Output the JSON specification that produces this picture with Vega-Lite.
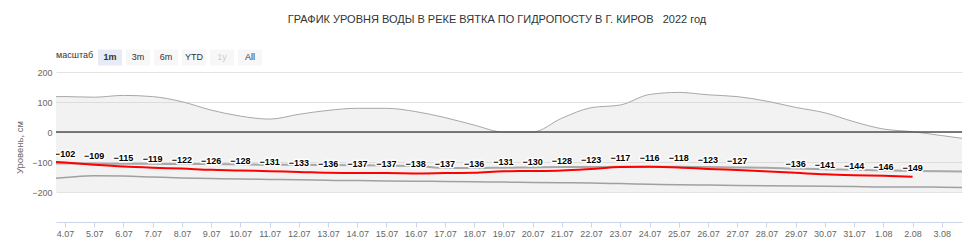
{
  "$schema": "https://vega.github.io/schema/vega-lite/v6.json",
  "width": 906,
  "height": 150,
  "autosize": {"type": "none"},
  "padding": {"left": 56, "top": 72, "right": 12, "bottom": 29},
  "background": "white",
  "config": {
    "view": {"stroke": null},
    "font": "Liberation Sans",
    "axisX": {
      "title": null,
      "format": "%-d.%m",
      "labelOverlap": false,
      "labelBound": false,
      "labelFlush": false,
      "grid": false,
      "domainColor": "#ccd6eb",
      "tickColor": "#ccd6eb",
      "tickSize": 5,
      "labelFontSize": 9,
      "labelColor": "#666666",
      "labelPadding": 2,
      "labelFont": "Liberation Sans"
    },
    "axisY": {
      "ticks": false,
      "domain": false,
      "grid": true,
      "gridColor": "#e3e3e3",
      "labelFontSize": 9,
      "labelColor": "#666666",
      "labelPadding": 4,
      "labelFont": "Liberation Sans",
      "titleFont": "Liberation Sans",
      "titleFontSize": 9.5,
      "titleColor": "#666666",
      "titleFontWeight": "normal",
      "titlePadding": 7
    }
  },
  "title": {
    "text": "ГРАФИК УРОВНЯ ВОДЫ В РЕКЕ ВЯТКА ПО ГИДРОПОСТУ В Г. КИРОВ\u00a0\u00a0 2022 год",
    "fontSize": 11,
    "font": "Liberation Sans",
    "fontWeight": "normal",
    "color": "#333333",
    "anchor": "middle",
    "frame": "group",
    "offset": 20,
    "dx": -12
  },
  "datasets": {
    "env": [
      {"d": "2022-07-03", "mx": 118, "mid": -104, "mn": -158},
      {"d": "2022-07-04", "mx": 118, "mid": -105, "mn": -152},
      {"d": "2022-07-05", "mx": 116, "mid": -105, "mn": -146},
      {"d": "2022-07-06", "mx": 122, "mid": -106, "mn": -147},
      {"d": "2022-07-07", "mx": 118, "mid": -106, "mn": -150},
      {"d": "2022-07-08", "mx": 101, "mid": -107, "mn": -153},
      {"d": "2022-07-09", "mx": 73, "mid": -107, "mn": -155},
      {"d": "2022-07-10", "mx": 53, "mid": -108, "mn": -157},
      {"d": "2022-07-11", "mx": 43, "mid": -109, "mn": -158},
      {"d": "2022-07-12", "mx": 59, "mid": -109, "mn": -159},
      {"d": "2022-07-13", "mx": 72, "mid": -110, "mn": -161},
      {"d": "2022-07-14", "mx": 79, "mid": -111, "mn": -162},
      {"d": "2022-07-15", "mx": 79, "mid": -112, "mn": -163},
      {"d": "2022-07-16", "mx": 68, "mid": -113, "mn": -164},
      {"d": "2022-07-17", "mx": 48, "mid": -120, "mn": -165},
      {"d": "2022-07-18", "mx": 23, "mid": -120, "mn": -166},
      {"d": "2022-07-19", "mx": 0, "mid": -119, "mn": -167},
      {"d": "2022-07-20", "mx": 0, "mid": -118, "mn": -168},
      {"d": "2022-07-21", "mx": 46, "mid": -117, "mn": -169},
      {"d": "2022-07-22", "mx": 81, "mid": -117, "mn": -170},
      {"d": "2022-07-23", "mx": 90, "mid": -116, "mn": -172},
      {"d": "2022-07-24", "mx": 125, "mid": -116, "mn": -174},
      {"d": "2022-07-25", "mx": 132, "mid": -116, "mn": -176},
      {"d": "2022-07-26", "mx": 124, "mid": -117, "mn": -177},
      {"d": "2022-07-27", "mx": 118, "mid": -118, "mn": -178},
      {"d": "2022-07-28", "mx": 103, "mid": -119, "mn": -179},
      {"d": "2022-07-29", "mx": 82, "mid": -122, "mn": -180},
      {"d": "2022-07-30", "mx": 64, "mid": -124, "mn": -181},
      {"d": "2022-07-31", "mx": 34, "mid": -126, "mn": -182},
      {"d": "2022-08-01", "mx": 10, "mid": -128, "mn": -183},
      {"d": "2022-08-02", "mx": 1, "mid": -130, "mn": -183},
      {"d": "2022-08-03", "mx": -12, "mid": -131, "mn": -184},
      {"d": "2022-08-04", "mx": -25, "mid": -132, "mn": -185}
    ],
    "lvl": [
      {"d": "2022-07-03", "v": -95},
      {"d": "2022-07-04", "v": -102},
      {"d": "2022-07-05", "v": -109},
      {"d": "2022-07-06", "v": -115},
      {"d": "2022-07-07", "v": -119},
      {"d": "2022-07-08", "v": -122},
      {"d": "2022-07-09", "v": -126},
      {"d": "2022-07-10", "v": -128},
      {"d": "2022-07-11", "v": -131},
      {"d": "2022-07-12", "v": -133},
      {"d": "2022-07-13", "v": -136},
      {"d": "2022-07-14", "v": -137},
      {"d": "2022-07-15", "v": -137},
      {"d": "2022-07-16", "v": -138},
      {"d": "2022-07-17", "v": -137},
      {"d": "2022-07-18", "v": -136},
      {"d": "2022-07-19", "v": -131},
      {"d": "2022-07-20", "v": -130},
      {"d": "2022-07-21", "v": -128},
      {"d": "2022-07-22", "v": -123},
      {"d": "2022-07-23", "v": -117},
      {"d": "2022-07-24", "v": -116},
      {"d": "2022-07-25", "v": -118},
      {"d": "2022-07-26", "v": -123},
      {"d": "2022-07-27", "v": -127},
      {"d": "2022-07-29", "v": -136},
      {"d": "2022-07-30", "v": -141},
      {"d": "2022-07-31", "v": -144},
      {"d": "2022-08-01", "v": -146},
      {"d": "2022-08-02", "v": -149}
    ],
    "btn": [
      {"b": "1m"}, {"b": "3m"}, {"b": "6m"}, {"b": "YTD"}, {"b": "1y"}, {"b": "All"}
    ],
    "zero": [{"z": 0}]
  },
  "layer": [
    {
      "data": {"name": "env"},
      "mark": {"type": "area", "color": "#c4c4c4", "opacity": 0.22, "interpolate": "monotone", "clip": true},
      "encoding": {
        "x": {
          "field": "d", "type": "temporal",
          "scale": {"type": "utc", "domain": [
            {"year": 2022, "month": 7, "date": 3, "hours": 16, "minutes": 36, "utc": true},
            {"year": 2022, "month": 8, "date": 3, "hours": 16, "minutes": 36, "utc": true}
          ]},
          "axis": {"tickCount": {"interval": "day", "step": 1}, "format": "%-d.%m", "title": null}
        },
        "y": {
          "field": "mx", "type": "quantitative",
          "scale": {"domain": [-300, 200], "nice": false, "zero": false},
          "axis": {"title": "Уровень, см", "values": [-200, -100, 0, 100, 200]}
        },
        "y2": {"datum": -200}
      }
    },
    {
      "data": {"name": "env"},
      "mark": {"type": "line", "color": "#a8a8a8", "strokeWidth": 1, "interpolate": "monotone", "clip": true},
      "encoding": {
        "x": {"field": "d", "type": "temporal", "axis": {"tickCount": {"interval": "day", "step": 1}, "format": "%-d.%m", "title": null}},
        "y": {"field": "mx", "type": "quantitative", "axis": {"title": "Уровень, см", "values": [-200, -100, 0, 100, 200]}}
      }
    },
    {
      "data": {"name": "zero"},
      "mark": {"type": "rule", "color": "#505050", "strokeWidth": 1.5},
      "encoding": {"y": {"field": "z", "type": "quantitative", "axis": {"title": "Уровень, см", "values": [-200, -100, 0, 100, 200]}}}
    },
    {
      "data": {"name": "env"},
      "mark": {"type": "line", "color": "#a0a0a0", "strokeWidth": 1.5, "interpolate": "monotone", "clip": true},
      "encoding": {
        "x": {"field": "d", "type": "temporal", "axis": {"tickCount": {"interval": "day", "step": 1}, "format": "%-d.%m", "title": null}},
        "y": {"field": "mn", "type": "quantitative", "axis": {"title": "Уровень, см", "values": [-200, -100, 0, 100, 200]}}
      }
    },
    {
      "data": {"name": "env"},
      "mark": {"type": "line", "color": "#a8a8a8", "strokeWidth": 2, "interpolate": "monotone", "clip": true},
      "encoding": {
        "x": {"field": "d", "type": "temporal", "axis": {"tickCount": {"interval": "day", "step": 1}, "format": "%-d.%m", "title": null}},
        "y": {"field": "mid", "type": "quantitative", "axis": {"title": "Уровень, см", "values": [-200, -100, 0, 100, 200]}}
      }
    },
    {
      "data": {"name": "lvl"},
      "mark": {"type": "line", "color": "#ff0000", "strokeWidth": 2, "interpolate": "monotone", "clip": true},
      "encoding": {
        "x": {"field": "d", "type": "temporal", "axis": {"tickCount": {"interval": "day", "step": 1}, "format": "%-d.%m", "title": null}},
        "y": {"field": "v", "type": "quantitative", "axis": {"title": "Уровень, см", "values": [-200, -100, 0, 100, 200]}}
      }
    },
    {
      "data": {"name": "lvl"},
      "mark": {"type": "text", "dy": -9, "fontSize": 9, "fontWeight": "bold", "fill": "#ffffff", "stroke": "#ffffff", "strokeWidth": 3, "strokeJoin": "round", "clip": true},
      "encoding": {
        "x": {"field": "d", "type": "temporal", "axis": {"tickCount": {"interval": "day", "step": 1}, "format": "%-d.%m", "title": null}},
        "y": {"field": "v", "type": "quantitative", "axis": {"title": "Уровень, см", "values": [-200, -100, 0, 100, 200]}},
        "text": {"field": "v", "type": "quantitative", "format": "d"}
      }
    },
    {
      "data": {"name": "lvl"},
      "mark": {"type": "text", "dy": -9, "fontSize": 9, "fontWeight": "bold", "fill": "#000000", "clip": true},
      "encoding": {
        "x": {"field": "d", "type": "temporal", "axis": {"tickCount": {"interval": "day", "step": 1}, "format": "%-d.%m", "title": null}},
        "y": {"field": "v", "type": "quantitative", "axis": {"title": "Уровень, см", "values": [-200, -100, 0, 100, 200]}},
        "text": {"field": "v", "type": "quantitative", "format": "d"}
      }
    },
    {
      "data": {"name": "btn"},
      "mark": {"type": "point", "filled": true, "opacity": 0, "size": 576},
      "encoding": {
        "color": {
          "field": "b", "type": "nominal",
          "scale": {"domain": ["1m", "3m", "6m", "YTD", "1y", "All"], "range": ["#e6ebf5", "#f7f7f7", "#f7f7f7", "#f7f7f7", "#f7f7f7", "#f7f7f7"]},
          "legend": {
            "orient": "none",
            "legendX": 0,
            "legendY": -27,
            "direction": "horizontal",
            "title": "масштаб",
            "titleOrient": "left",
            "titleFontSize": 9,
            "titleFontWeight": "normal",
            "titleColor": "#333333",
            "titlePadding": 4,
            "titleBaseline": "middle",
            "symbolType": "M-1,-0.667H1V0.667H-1Z",
            "symbolSize": 576,
            "symbolStrokeWidth": 0,
            "symbolOpacity": 1,
            "labelOffset": -12,
            "labelAlign": "center",
            "labelFontSize": 9,
            "labelColor": "#333333",
            "columnPadding": 4,
            "gridAlign": "all",
            "encode": {
              "labels": {"update": {
                "fontWeight": {"signal": "datum.label === '1m' ? 'bold' : 'normal'"},
                "fill": {"signal": "datum.label === '1y' ? '#cccccc' : '#333333'"}
              }}
            }
          }
        }
      }
    }
  ]
}
